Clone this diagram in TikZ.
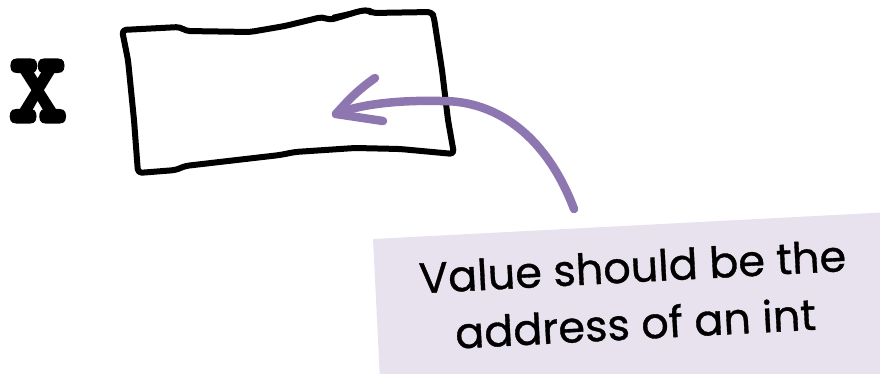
\documentclass[tikz,border=0pt]{standalone}
\usepackage{fontspec}
\newfontfamily\notefont{Poppins}[FakeBold=0.8]
\newfontfamily\codefont{lmmonolt10-bold.otf}[FakeBold=3]
\definecolor{penpurple}{HTML}{8E77B0}
\definecolor{notebg}{HTML}{E8E2EE}
\tikzset{
  sketch/.style={line width=6pt, line join=round, line cap=round, black},
  pen/.style={line width=8.5pt, line join=round, line cap=round, penpurple},
  notetext/.style={font=\notefont\fontsize{43}{57}\selectfont, align=center, text=black, inner sep=0pt},
}
\begin{document}
\begin{tikzpicture}[x=1pt,y=-1pt]
\useasboundingbox (0,0) rectangle (880,374);
\clip (0,0) rectangle (880,374);
% note background
\fill[notebg] (373,239) -- (892,212) -- (900,380) -- (380,380) -- cycle;
\node[notetext, rotate=3] (note) at (634,295) {Value should be the\\address of an int};
% variable name
\node[font=\codefont\bfseries\fontsize{140}{140}\selectfont, inner sep=0pt, xscale=0.8] (x) at (38,91) {x};
% hand-drawn box
\draw[sketch, rounded corners=4pt] (122,30) -- (180,27) -- (186,31) -- (250,32) -- (285,26) -- (322,17) -- (330,20) -- (360,11) -- (368,10) -- (372,13) -- (432,12) -- (434,18) -- (442,70) -- (448,120) -- (454,154)
  -- (400,149) -- (355,148) -- (295,152) -- (280,155) -- (185,166) -- (176,170) -- (138,173) -- (134,120) -- (128,60) -- cycle;
\draw[black, line width=5pt, line cap=round] (334,17) -- (366,10);
% arrow
\coordinate (start) at (574,209);
\coordinate (tip) at (336,114);
\draw[pen] (start) .. controls (548,140) and (500,100) .. (440,101) .. controls (400,100) and (360,104) .. (tip);
\draw[pen] (375,78) .. controls (355,92) and (345,104) .. (tip) -- (383,121);
\end{tikzpicture}
\end{document}
